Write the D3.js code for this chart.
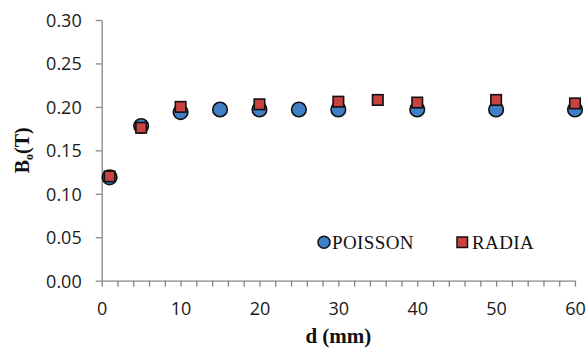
<!DOCTYPE html>
<html>
<head>
<meta charset="utf-8">
<script src="https://cdn.jsdelivr.net/npm/d3@7"></script>
<style>
  body { margin: 0; background: #fff; }
  .tick text { font-family: "Open Sans", sans-serif; font-size: 18px; fill: #1a1a1a; }
</style>
</head>
<body>
<div id="chart"></div>
<script>
"use strict"

// d (mm)
const dPoisson = [1, 5, 10, 15, 20, 25, 30, 40, 50, 60];
const bPoisson = [0.119, 0.178, 0.194, 0.197, 0.197, 0.197, 0.197, 0.197, 0.197, 0.197];
const dRadia = [1, 5, 10, 20, 30, 35, 40, 50, 60];
const bRadia = [0.120, 0.176, 0.200, 0.203, 0.206, 0.208, 0.205, 0.208, 0.204];
const xTicks = [0, 10, 20, 30, 40, 50, 60];
const xMinorTicks = d3.range(0, 61, 2);
const yTicks = [0, 0.05, 0.10, 0.15, 0.20, 0.25, 0.30];

const width = 587, height = 349;
const margin = {top: 20, right: 12, bottom: 68.3, left: 101.7};

const svg = d3.select('#chart')
  .append('svg')
    .attr('width', width)
    .attr('height', height);

const x = d3.scaleLinear()
  .domain([0, 60])
  .range([margin.left, width - margin.right]);

const y = d3.scaleLinear()
  .domain([0, 0.30])
  .range([height - margin.bottom, margin.top]);

const axisColor = '#868686';

// x axis: minor ticks every 2, labels every 10
const xAxis = svg.append('g')
  .attr('transform', `translate(0,${y(0)})`)
  .call(d3.axisBottom(x).tickValues(xMinorTicks).tickSize(6).tickSizeOuter(0)
    .tickFormat(d => xTicks.includes(d) ? d : ''));
xAxis.selectAll('.tick text').attr('y', 22).attr('dy', '0.71em');

// y axis
const yAxis = svg.append('g')
  .attr('transform', `translate(${x(0)},0)`)
  .call(d3.axisLeft(y).tickValues(yTicks).tickSize(6).tickSizeOuter(0)
    .tickFormat(d3.format('.2f')));
yAxis.selectAll('.tick text').attr('x', -20).attr('dy', '0.36em');

svg.selectAll('.domain, .tick line').attr('stroke', axisColor).attr('stroke-width', 1.3);

// POISSON circles
svg.append('g')
  .selectAll('circle')
    .data(dPoisson)
  .enter()
    .append('circle')
      .attr('cx', d => x(d))
      .attr('cy', (d, i) => y(bPoisson[i]))
      .attr('r', 7.3)
      .attr('fill', '#4080c8')
      .attr('stroke', '#111')
      .attr('stroke-width', 1.6);

// RADIA squares
const sq = 10.5;
svg.append('g')
  .selectAll('rect')
    .data(dRadia)
  .enter()
    .append('rect')
      .attr('x', d => x(d) - sq / 2)
      .attr('y', (d, i) => y(bRadia[i]) - sq / 2)
      .attr('width', sq)
      .attr('height', sq)
      .attr('fill', '#c8433f')
      .attr('stroke', '#111')
      .attr('stroke-width', 1.6);

// Legend
const legend = svg.append('g').attr('font-family', '"Liberation Serif", "Times New Roman", serif')
  .attr('font-size', 19).attr('fill', '#111');
legend.append('circle')
  .attr('cx', 324).attr('cy', 242.3).attr('r', 6)
  .attr('fill', '#4080c8').attr('stroke', '#111').attr('stroke-width', 1.5);
legend.append('text').attr('x', 332).attr('y', 248.5).attr('letter-spacing', 0.4).text('POISSON');
legend.append('rect')
  .attr('x', 457).attr('y', 237).attr('width', 10.5).attr('height', 10.5)
  .attr('fill', '#c8433f').attr('stroke', '#111').attr('stroke-width', 1.5);
legend.append('text').attr('x', 472).attr('y', 248.5).attr('letter-spacing', 0.4).text('RADIA');

// Axis titles
svg.append('text')
  .attr('x', (x(0) + x(60)) / 2)
  .attr('y', 343)
  .attr('text-anchor', 'middle')
  .attr('font-family', '"Liberation Serif", "Times New Roman", serif')
  .attr('font-weight', 'bold')
  .attr('font-size', 21)
  .attr('fill', '#111')
  .text('d (mm)');

const yTitle = svg.append('text')
  .attr('transform', `translate(29,${(y(0) + y(0.30)) / 2}) rotate(-90)`)
  .attr('text-anchor', 'middle')
  .attr('font-family', '"Liberation Serif", "Times New Roman", serif')
  .attr('font-weight', 'bold')
  .attr('font-size', 20)
  .attr('fill', '#111');
yTitle.append('tspan').text('B');
yTitle.append('tspan').attr('font-size', 12).attr('dy', 4).text('o');
yTitle.append('tspan').attr('dy', -4).text('(T)');
</script>
</body>
</html>
